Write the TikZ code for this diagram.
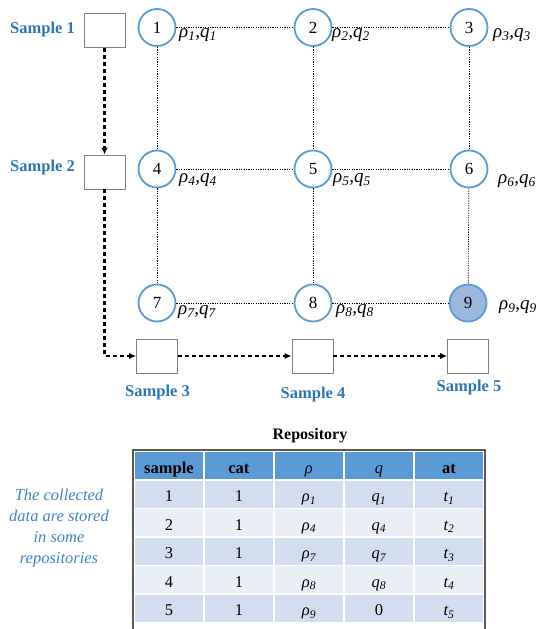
\documentclass[tikz,border=0pt]{standalone}
\usepackage{fontspec}
\setmainfont{Liberation Serif}
\usetikzlibrary{arrows.meta,matrix}

\definecolor{nodeblue}{RGB}{91,155,213}
\definecolor{labelblue}{RGB}{46,117,182}
\definecolor{noteblue}{RGB}{68,130,197}
\definecolor{shadeblue}{RGB}{155,184,220}
\definecolor{boxgray}{RGB}{128,128,128}
\definecolor{framegray}{RGB}{90,90,90}
\definecolor{headblue}{RGB}{91,155,213}
\definecolor{rowdark}{RGB}{210,222,239}
\definecolor{rowlight}{RGB}{234,239,247}

\newcommand{\pq}[1]{\textit{ρ\textsubscript{#1},q\textsubscript{#1}}}

\tikzset{
  site/.style={circle, draw=nodeblue, line width=1.8pt, fill=white,
    minimum size=37pt, inner sep=0pt, font=\fontsize{17}{17}\selectfont},
  hotsite/.style={site, fill=shadeblue},
  probe/.style={rectangle, draw=boxgray, line width=0.9pt, fill=white,
    minimum width=41pt, minimum height=34pt, inner sep=0pt},
  samplelbl/.style={text=labelblue, font=\fontsize{16.5}{16.5}\selectfont\bfseries},
  pqlbl/.style={font=\fontsize{19}{19}\selectfont, inner sep=0pt},
  gridlink/.style={line width=0.7pt, dash pattern=on 1.2pt off 1.2pt},
  flow/.style={line width=2.1pt, dash pattern=on 4pt off 3pt,
    -{Latex[length=7pt,width=6.5pt]}},
}

\begin{document}
\begin{tikzpicture}[x=1pt, y=-1pt]
\useasboundingbox (0,0) rectangle (537,629);

% sensor sites
\node[site] (n1) at (157,27.5) {1};
\node[site] (n2) at (313,27.5) {2};
\node[site] (n3) at (469,27.5) {3};
\node[site] (n4) at (157,169) {4};
\node[site] (n5) at (313,169) {5};
\node[site] (n6) at (469,169) {6};
\node[site] (n7) at (157,303) {7};
\node[site] (n8) at (313,303) {8};
\node[hotsite] (n9) at (468,303) {9};

% grid links
\draw[gridlink] (n1) -- (n2);
\draw[gridlink] (n2) -- (n3);
\draw[gridlink] (n4) -- (n5);
\draw[gridlink] (n5) -- (n6);
\draw[gridlink] (n7) -- (n8);
\draw[gridlink] (n8) -- (n9);
\draw[gridlink] (n1) -- (n4);
\draw[gridlink] (n4) -- (n7);
\draw[gridlink] (n2) -- (n5);
\draw[gridlink] (n5) -- (n8);
\draw[gridlink] (n3) -- (n6);
\draw[gridlink] (n6) -- (n9);

% site parameters
\node[pqlbl] (p1) at (198,35) {\pq{1}};
\node[pqlbl] (p2) at (351,35) {\pq{2}};
\node[pqlbl] (p3) at (512,35) {\pq{3}};
\node[pqlbl] (p4) at (198,180) {\pq{4}};
\node[pqlbl] (p5) at (352,180) {\pq{5}};
\node[pqlbl] (p6) at (517,181) {\pq{6}};
\node[pqlbl] (p7) at (197,312) {\pq{7}};
\node[pqlbl] (p8) at (355,311) {\pq{8}};
\node[pqlbl] (p9) at (518,307) {\pq{9}};

% sample boxes
\node[probe] (s1) at (104.5,30.5) {};
\node[probe] (s2) at (104.5,172) {};
\node[probe] (s3) at (157,356) {};
\node[probe] (s4) at (312.5,356) {};
\node[probe] (s5) at (468,356) {};

\node[samplelbl] (l1) at (42.5,30) {Sample 1};
\node[samplelbl] (l2) at (42.5,168) {Sample 2};
\node[samplelbl] (l3) at (157.5,393) {Sample 3};
\node[samplelbl] (l4) at (313,395) {Sample 4};
\node[samplelbl] (l5) at (469,388) {Sample 5};

% sampling route
\draw[flow] (s1.south) -- (s2.north);
\draw[flow] (s2.south) |- (s3.west);
\draw[flow] (s3.east) -- (s4.west);
\draw[flow] (s4.east) -- (s5.west);

% repository
\node[font=\fontsize{16}{16}\selectfont\bfseries] (reptitle) at (310,436) {Repository};

\node[text=noteblue, align=center, font=\fontsize{16.5}{20.7}\selectfont\itshape]
  (note) at (59,528) {The collected\\data are stored\\in some\\repositories};

\matrix (repo) [matrix of nodes, anchor=north west, inner sep=0pt,
  column sep=1.5pt, row sep=1.5pt,
  nodes={anchor=center, minimum width=68.5pt, minimum height=27pt,
    text height=15pt, text depth=0pt, inner sep=0pt,
    font=\fontsize{16.5}{16.5}\selectfont, fill=rowdark},
  row 1/.style={nodes={fill=headblue}},
  row 3/.style={nodes={fill=rowlight}},
  row 5/.style={nodes={fill=rowlight}}]
  at (134.5,452) {
  \textbf{sample} & \textbf{cat} & \textit{ρ} & \textit{q} & \textbf{at} \\
  1 & 1 & \textit{ρ\textsubscript{1}} & \textit{q\textsubscript{1}} & \textit{t\textsubscript{1}} \\
  2 & 1 & \textit{ρ\textsubscript{4}} & \textit{q\textsubscript{4}} & \textit{t\textsubscript{2}} \\
  3 & 1 & \textit{ρ\textsubscript{7}} & \textit{q\textsubscript{7}} & \textit{t\textsubscript{3}} \\
  4 & 1 & \textit{ρ\textsubscript{8}} & \textit{q\textsubscript{8}} & \textit{t\textsubscript{4}} \\
  5 & 1 & \textit{ρ\textsubscript{9}} & 0 & \textit{t\textsubscript{5}} \\
};

\draw[framegray, line width=1.4pt] (133,629) -- (133,450) -- (485,450) -- (485,629);
\end{tikzpicture}
\end{document}
